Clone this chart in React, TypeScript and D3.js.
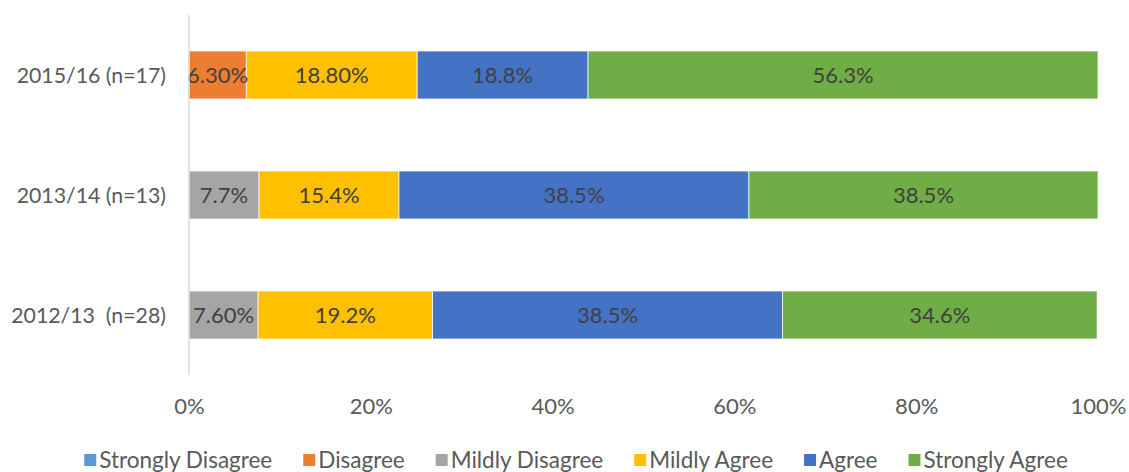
import React, { useEffect, useRef } from "react";
import * as d3 from "d3";

const categories = ["2015/16 (n=17)", "2013/14 (n=13)", "2012/13  (n=28)"];
const seriesNames = ["Strongly Disagree", "Disagree", "Mildly Disagree", "Mildly Agree", "Agree", "Strongly Agree"];
const seriesColors = ["#5B9BD5", "#ED7D31", "#A5A5A5", "#FFC000", "#4472C4", "#70AD47"];
const stronglyDisagree = [0, 0, 0];
const disagree = [6.3, 0, 0];
const mildlyDisagree = [0, 7.7, 7.6];
const mildlyAgree = [18.8, 15.4, 19.2];
const agree = [18.8, 38.5, 38.5];
const stronglyAgree = [56.3, 38.5, 34.6];
const labelsDisagree = ["6.30%", "", ""];
const labelsMildlyDisagree = ["", "7.7%", "7.60%"];
const labelsMildlyAgree = ["18.80%", "15.4%", "19.2%"];
const labelsAgree = ["18.8%", "38.5%", "38.5%"];
const labelsStronglyAgree = ["56.3%", "38.5%", "34.6%"];
const xTicks = [0, 20, 40, 60, 80, 100];

const W = 1129;
const H = 472;
const FONT = "Lato, 'Noto Sans', sans-serif";

export default function App() {
  const ref = useRef<SVGSVGElement | null>(null);

  useEffect(() => {
    document.body.style.margin = "0";
    const svg = d3.select(ref.current);
    svg.selectAll("*").remove();

    const x = d3.scaleLinear().domain([0, 100]).range([189, 1098]).clamp(true);
    const y = d3.scaleBand<string>().domain(categories).range([15, 375]).paddingInner(0.6).paddingOuter(0.3);

    const values = [stronglyDisagree, disagree, mildlyDisagree, mildlyAgree, agree, stronglyAgree];
    const labels = [["", "", ""], labelsDisagree, labelsMildlyDisagree, labelsMildlyAgree, labelsAgree, labelsStronglyAgree];

    const rows = categories.map((c, i) => {
      const o: any = { cat: c };
      seriesNames.forEach((s, j) => (o[s] = values[j][i]));
      return o;
    });
    const stack = d3.stack<any>().keys(seriesNames)(rows);

    const g = svg.append("g");
    stack.forEach((layer, j) => {
      layer.forEach((d, i) => {
        const v = values[j][i];
        if (!v) return;
        const x0 = x(d[0]);
        const x1 = x(d[1]);
        g.append("rect")
          .attr("x", x0)
          .attr("y", y(categories[i])!)
          .attr("width", Math.max(0, x1 - x0))
          .attr("height", y.bandwidth())
          .attr("fill", seriesColors[j])
          .attr("stroke", "#ffffff")
          .attr("stroke-width", 0.75);
      });
    });

    // data labels
    stack.forEach((layer, j) => {
      layer.forEach((d, i) => {
        const t = labels[j][i];
        if (!t) return;
        const cx = (x(d[0]) + x(d[1])) / 2;
        g.append("text")
          .attr("x", cx)
          .attr("y", y(categories[i])! + y.bandwidth() / 2 + 7.5)
          .attr("text-anchor", "middle")
          .attr("font-family", FONT)
          .attr("font-size", 22)
          .attr("fill", "#404040")
          .text(t);
      });
    });

    // vertical axis line
    svg.append("line")
      .attr("x1", 189).attr("x2", 189)
      .attr("y1", 15).attr("y2", 375)
      .attr("stroke", "#D9D9D9").attr("stroke-width", 1.5);

    // category labels
    categories.forEach((c) => {
      svg.append("text")
        .attr("x", 166)
        .attr("y", y(c)! + y.bandwidth() / 2 + 7.5)
        .attr("text-anchor", "end")
        .attr("font-family", FONT)
        .attr("font-size", 21.3)
        .attr("fill", "#595959")
        .attr("xml:space", "preserve")
        .style("white-space", "pre")
        .text(c);
    });

    // x tick labels
    const xAxis = d3.axisBottom(x).tickValues(xTicks).tickSize(0).tickPadding(0).tickFormat((d) => `${d}%`);
    const ax = svg.append("g").attr("transform", "translate(0,398)").call(xAxis);
    ax.select(".domain").remove();
    ax.selectAll("text")
      .attr("font-family", FONT)
      .attr("font-size", 22)
      .attr("fill", "#595959")
      .attr("dy", "0.71em");

    // legend
    const leg = svg.append("g");
    let cursor = 0;
    seriesNames.forEach((s, j) => {
      const item = leg.append("g").attr("transform", `translate(${cursor},0)`);
      item.append("rect").attr("x", 0).attr("y", 454).attr("width", 12).attr("height", 12).attr("fill", seriesColors[j]);
      const t = item.append("text")
        .attr("x", 15)
        .attr("y", 468)
        .attr("font-family", FONT)
        .attr("font-size", 22.5)
        .attr("fill", "#595959")
        .text(s);
      const w = (t.node() as SVGTextElement).getComputedTextLength();
      cursor += 15 + w + 31;
    });
    const total = cursor - 31;
    leg.attr("transform", `translate(${576 - total / 2},0)`);
  }, []);

  return <svg ref={ref} width={W} height={H} style={{ display: "block", background: "#fff" }} />;
}
